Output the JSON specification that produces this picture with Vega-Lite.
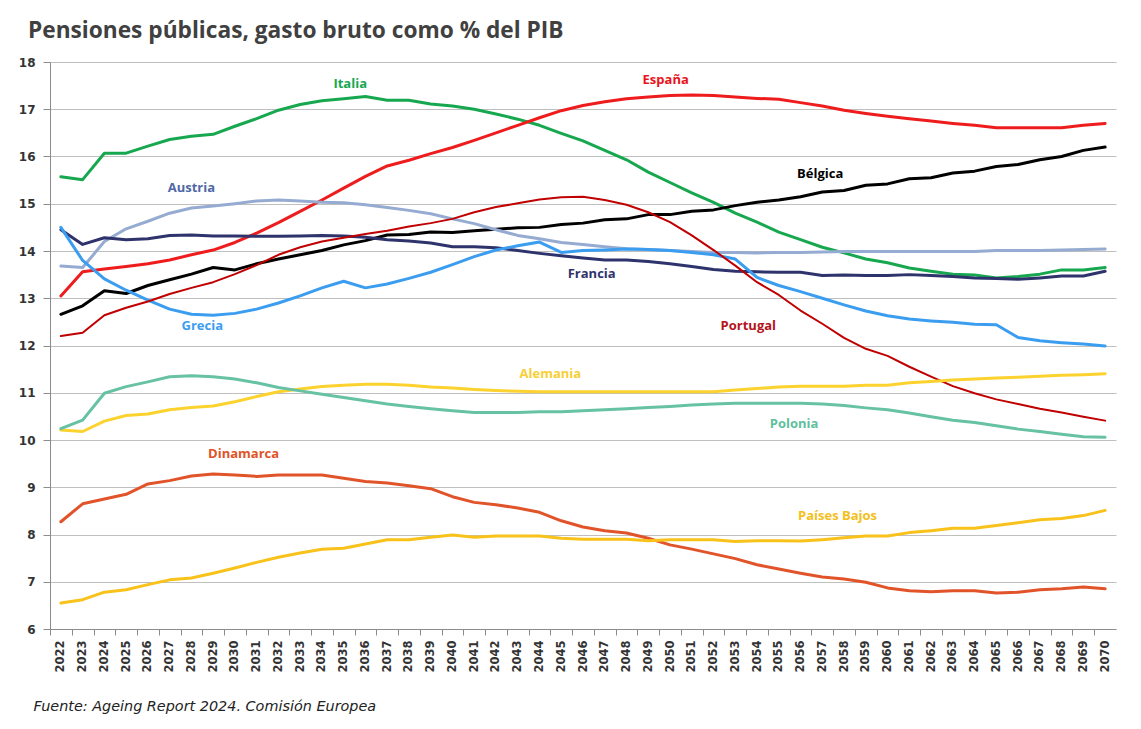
{
  "$schema": "https://vega.github.io/schema/vega-lite/v6.json",
  "width": 1066,
  "height": 567,
  "autosize": {"type": "none"},
  "padding": {"left": 50, "top": 62, "right": 25, "bottom": 100},
  "background": "#ffffff",
  "title": {
    "text": "Pensiones públicas, gasto bruto como % del PIB",
    "anchor": "start",
    "frame": "group",
    "dx": -22,
    "offset": 13,
    "font": "Open Sans",
    "fontSize": 22.7,
    "fontWeight": "bold",
    "color": "#404040"
  },
  "config": {"view": {"stroke": null}},
  "datasets": {
    "series": [
      {"pais":"Italia","anio":2022,"pct":15.57},{"pais":"Italia","anio":2023,"pct":15.51},{"pais":"Italia","anio":2024,"pct":16.07},{"pais":"Italia","anio":2025,"pct":16.07},{"pais":"Italia","anio":2026,"pct":16.22},{"pais":"Italia","anio":2027,"pct":16.36},{"pais":"Italia","anio":2028,"pct":16.43},{"pais":"Italia","anio":2029,"pct":16.47},{"pais":"Italia","anio":2030,"pct":16.64},{"pais":"Italia","anio":2031,"pct":16.8},
      {"pais":"Italia","anio":2032,"pct":16.98},{"pais":"Italia","anio":2033,"pct":17.1},{"pais":"Italia","anio":2034,"pct":17.18},{"pais":"Italia","anio":2035,"pct":17.22},{"pais":"Italia","anio":2036,"pct":17.27},{"pais":"Italia","anio":2037,"pct":17.19},{"pais":"Italia","anio":2038,"pct":17.19},{"pais":"Italia","anio":2039,"pct":17.11},{"pais":"Italia","anio":2040,"pct":17.07},{"pais":"Italia","anio":2041,"pct":17.0},
      {"pais":"Italia","anio":2042,"pct":16.9},{"pais":"Italia","anio":2043,"pct":16.79},{"pais":"Italia","anio":2044,"pct":16.66},{"pais":"Italia","anio":2045,"pct":16.49},{"pais":"Italia","anio":2046,"pct":16.33},{"pais":"Italia","anio":2047,"pct":16.13},{"pais":"Italia","anio":2048,"pct":15.93},{"pais":"Italia","anio":2049,"pct":15.67},{"pais":"Italia","anio":2050,"pct":15.45},{"pais":"Italia","anio":2051,"pct":15.23},
      {"pais":"Italia","anio":2052,"pct":15.03},{"pais":"Italia","anio":2053,"pct":14.8},{"pais":"Italia","anio":2054,"pct":14.61},{"pais":"Italia","anio":2055,"pct":14.4},{"pais":"Italia","anio":2056,"pct":14.24},{"pais":"Italia","anio":2057,"pct":14.08},{"pais":"Italia","anio":2058,"pct":13.96},{"pais":"Italia","anio":2059,"pct":13.83},{"pais":"Italia","anio":2060,"pct":13.75},{"pais":"Italia","anio":2061,"pct":13.64},
      {"pais":"Italia","anio":2062,"pct":13.57},{"pais":"Italia","anio":2063,"pct":13.51},{"pais":"Italia","anio":2064,"pct":13.49},{"pais":"Italia","anio":2065,"pct":13.43},{"pais":"Italia","anio":2066,"pct":13.46},{"pais":"Italia","anio":2067,"pct":13.51},{"pais":"Italia","anio":2068,"pct":13.6},{"pais":"Italia","anio":2069,"pct":13.6},{"pais":"Italia","anio":2070,"pct":13.65},

      {"pais":"España","anio":2022,"pct":13.05},{"pais":"España","anio":2023,"pct":13.56},{"pais":"España","anio":2024,"pct":13.62},{"pais":"España","anio":2025,"pct":13.67},{"pais":"España","anio":2026,"pct":13.73},{"pais":"España","anio":2027,"pct":13.81},{"pais":"España","anio":2028,"pct":13.92},{"pais":"España","anio":2029,"pct":14.02},{"pais":"España","anio":2030,"pct":14.18},{"pais":"España","anio":2031,"pct":14.38},
      {"pais":"España","anio":2032,"pct":14.6},{"pais":"España","anio":2033,"pct":14.84},{"pais":"España","anio":2034,"pct":15.08},{"pais":"España","anio":2035,"pct":15.33},{"pais":"España","anio":2036,"pct":15.58},{"pais":"España","anio":2037,"pct":15.8},{"pais":"España","anio":2038,"pct":15.92},{"pais":"España","anio":2039,"pct":16.06},{"pais":"España","anio":2040,"pct":16.19},{"pais":"España","anio":2041,"pct":16.34},
      {"pais":"España","anio":2042,"pct":16.5},{"pais":"España","anio":2043,"pct":16.66},{"pais":"España","anio":2044,"pct":16.82},{"pais":"España","anio":2045,"pct":16.97},{"pais":"España","anio":2046,"pct":17.08},{"pais":"España","anio":2047,"pct":17.16},{"pais":"España","anio":2048,"pct":17.22},{"pais":"España","anio":2049,"pct":17.26},{"pais":"España","anio":2050,"pct":17.29},{"pais":"España","anio":2051,"pct":17.3},
      {"pais":"España","anio":2052,"pct":17.29},{"pais":"España","anio":2053,"pct":17.26},{"pais":"España","anio":2054,"pct":17.23},{"pais":"España","anio":2055,"pct":17.21},{"pais":"España","anio":2056,"pct":17.14},{"pais":"España","anio":2057,"pct":17.07},{"pais":"España","anio":2058,"pct":16.98},{"pais":"España","anio":2059,"pct":16.91},{"pais":"España","anio":2060,"pct":16.85},{"pais":"España","anio":2061,"pct":16.8},
      {"pais":"España","anio":2062,"pct":16.75},{"pais":"España","anio":2063,"pct":16.7},{"pais":"España","anio":2064,"pct":16.66},{"pais":"España","anio":2065,"pct":16.61},{"pais":"España","anio":2066,"pct":16.61},{"pais":"España","anio":2067,"pct":16.61},{"pais":"España","anio":2068,"pct":16.61},{"pais":"España","anio":2069,"pct":16.66},{"pais":"España","anio":2070,"pct":16.7},

      {"pais":"Bélgica","anio":2022,"pct":12.66},{"pais":"Bélgica","anio":2023,"pct":12.84},{"pais":"Bélgica","anio":2024,"pct":13.16},{"pais":"Bélgica","anio":2025,"pct":13.1},{"pais":"Bélgica","anio":2026,"pct":13.27},{"pais":"Bélgica","anio":2027,"pct":13.39},{"pais":"Bélgica","anio":2028,"pct":13.51},{"pais":"Bélgica","anio":2029,"pct":13.65},{"pais":"Bélgica","anio":2030,"pct":13.6},{"pais":"Bélgica","anio":2031,"pct":13.73},
      {"pais":"Bélgica","anio":2032,"pct":13.83},{"pais":"Bélgica","anio":2033,"pct":13.92},{"pais":"Bélgica","anio":2034,"pct":14.01},{"pais":"Bélgica","anio":2035,"pct":14.13},{"pais":"Bélgica","anio":2036,"pct":14.22},{"pais":"Bélgica","anio":2037,"pct":14.34},{"pais":"Bélgica","anio":2038,"pct":14.35},{"pais":"Bélgica","anio":2039,"pct":14.4},{"pais":"Bélgica","anio":2040,"pct":14.39},{"pais":"Bélgica","anio":2041,"pct":14.43},
      {"pais":"Bélgica","anio":2042,"pct":14.46},{"pais":"Bélgica","anio":2043,"pct":14.49},{"pais":"Bélgica","anio":2044,"pct":14.5},{"pais":"Bélgica","anio":2045,"pct":14.56},{"pais":"Bélgica","anio":2046,"pct":14.59},{"pais":"Bélgica","anio":2047,"pct":14.66},{"pais":"Bélgica","anio":2048,"pct":14.68},{"pais":"Bélgica","anio":2049,"pct":14.77},{"pais":"Bélgica","anio":2050,"pct":14.77},{"pais":"Bélgica","anio":2051,"pct":14.84},
      {"pais":"Bélgica","anio":2052,"pct":14.87},{"pais":"Bélgica","anio":2053,"pct":14.96},{"pais":"Bélgica","anio":2054,"pct":15.03},{"pais":"Bélgica","anio":2055,"pct":15.08},{"pais":"Bélgica","anio":2056,"pct":15.15},{"pais":"Bélgica","anio":2057,"pct":15.25},{"pais":"Bélgica","anio":2058,"pct":15.28},{"pais":"Bélgica","anio":2059,"pct":15.39},{"pais":"Bélgica","anio":2060,"pct":15.42},{"pais":"Bélgica","anio":2061,"pct":15.53},
      {"pais":"Bélgica","anio":2062,"pct":15.55},{"pais":"Bélgica","anio":2063,"pct":15.65},{"pais":"Bélgica","anio":2064,"pct":15.69},{"pais":"Bélgica","anio":2065,"pct":15.79},{"pais":"Bélgica","anio":2066,"pct":15.83},{"pais":"Bélgica","anio":2067,"pct":15.93},{"pais":"Bélgica","anio":2068,"pct":16.0},{"pais":"Bélgica","anio":2069,"pct":16.13},{"pais":"Bélgica","anio":2070,"pct":16.2},

      {"pais":"Austria","anio":2022,"pct":13.68},{"pais":"Austria","anio":2023,"pct":13.65},{"pais":"Austria","anio":2024,"pct":14.2},{"pais":"Austria","anio":2025,"pct":14.47},{"pais":"Austria","anio":2026,"pct":14.63},{"pais":"Austria","anio":2027,"pct":14.8},{"pais":"Austria","anio":2028,"pct":14.91},{"pais":"Austria","anio":2029,"pct":14.95},{"pais":"Austria","anio":2030,"pct":15.0},{"pais":"Austria","anio":2031,"pct":15.06},
      {"pais":"Austria","anio":2032,"pct":15.08},{"pais":"Austria","anio":2033,"pct":15.06},{"pais":"Austria","anio":2034,"pct":15.03},{"pais":"Austria","anio":2035,"pct":15.02},{"pais":"Austria","anio":2036,"pct":14.98},{"pais":"Austria","anio":2037,"pct":14.92},{"pais":"Austria","anio":2038,"pct":14.86},{"pais":"Austria","anio":2039,"pct":14.79},{"pais":"Austria","anio":2040,"pct":14.68},{"pais":"Austria","anio":2041,"pct":14.58},
      {"pais":"Austria","anio":2042,"pct":14.45},{"pais":"Austria","anio":2043,"pct":14.33},{"pais":"Austria","anio":2044,"pct":14.26},{"pais":"Austria","anio":2045,"pct":14.18},{"pais":"Austria","anio":2046,"pct":14.14},{"pais":"Austria","anio":2047,"pct":14.09},{"pais":"Austria","anio":2048,"pct":14.05},{"pais":"Austria","anio":2049,"pct":14.03},{"pais":"Austria","anio":2050,"pct":14.01},{"pais":"Austria","anio":2051,"pct":13.99},
      {"pais":"Austria","anio":2052,"pct":13.97},{"pais":"Austria","anio":2053,"pct":13.97},{"pais":"Austria","anio":2054,"pct":13.96},{"pais":"Austria","anio":2055,"pct":13.97},{"pais":"Austria","anio":2056,"pct":13.97},{"pais":"Austria","anio":2057,"pct":13.98},{"pais":"Austria","anio":2058,"pct":13.99},{"pais":"Austria","anio":2059,"pct":13.99},{"pais":"Austria","anio":2060,"pct":13.99},{"pais":"Austria","anio":2061,"pct":13.99},
      {"pais":"Austria","anio":2062,"pct":13.99},{"pais":"Austria","anio":2063,"pct":13.99},{"pais":"Austria","anio":2064,"pct":13.99},{"pais":"Austria","anio":2065,"pct":14.01},{"pais":"Austria","anio":2066,"pct":14.01},{"pais":"Austria","anio":2067,"pct":14.01},{"pais":"Austria","anio":2068,"pct":14.02},{"pais":"Austria","anio":2069,"pct":14.03},{"pais":"Austria","anio":2070,"pct":14.04},

      {"pais":"Francia","anio":2022,"pct":14.45},{"pais":"Francia","anio":2023,"pct":14.14},{"pais":"Francia","anio":2024,"pct":14.28},{"pais":"Francia","anio":2025,"pct":14.24},{"pais":"Francia","anio":2026,"pct":14.26},{"pais":"Francia","anio":2027,"pct":14.33},{"pais":"Francia","anio":2028,"pct":14.34},{"pais":"Francia","anio":2029,"pct":14.32},{"pais":"Francia","anio":2030,"pct":14.32},{"pais":"Francia","anio":2031,"pct":14.31},
      {"pais":"Francia","anio":2032,"pct":14.31},{"pais":"Francia","anio":2033,"pct":14.32},{"pais":"Francia","anio":2034,"pct":14.33},{"pais":"Francia","anio":2035,"pct":14.32},{"pais":"Francia","anio":2036,"pct":14.29},{"pais":"Francia","anio":2037,"pct":14.24},{"pais":"Francia","anio":2038,"pct":14.21},{"pais":"Francia","anio":2039,"pct":14.17},{"pais":"Francia","anio":2040,"pct":14.09},{"pais":"Francia","anio":2041,"pct":14.09},
      {"pais":"Francia","anio":2042,"pct":14.07},{"pais":"Francia","anio":2043,"pct":14.01},{"pais":"Francia","anio":2044,"pct":13.95},{"pais":"Francia","anio":2045,"pct":13.9},{"pais":"Francia","anio":2046,"pct":13.85},{"pais":"Francia","anio":2047,"pct":13.81},{"pais":"Francia","anio":2048,"pct":13.81},{"pais":"Francia","anio":2049,"pct":13.78},{"pais":"Francia","anio":2050,"pct":13.73},{"pais":"Francia","anio":2051,"pct":13.67},
      {"pais":"Francia","anio":2052,"pct":13.61},{"pais":"Francia","anio":2053,"pct":13.57},{"pais":"Francia","anio":2054,"pct":13.56},{"pais":"Francia","anio":2055,"pct":13.55},{"pais":"Francia","anio":2056,"pct":13.55},{"pais":"Francia","anio":2057,"pct":13.48},{"pais":"Francia","anio":2058,"pct":13.49},{"pais":"Francia","anio":2059,"pct":13.48},{"pais":"Francia","anio":2060,"pct":13.48},{"pais":"Francia","anio":2061,"pct":13.5},
      {"pais":"Francia","anio":2062,"pct":13.48},{"pais":"Francia","anio":2063,"pct":13.46},{"pais":"Francia","anio":2064,"pct":13.43},{"pais":"Francia","anio":2065,"pct":13.42},{"pais":"Francia","anio":2066,"pct":13.4},{"pais":"Francia","anio":2067,"pct":13.43},{"pais":"Francia","anio":2068,"pct":13.47},{"pais":"Francia","anio":2069,"pct":13.47},{"pais":"Francia","anio":2070,"pct":13.57},

      {"pais":"Grecia","anio":2022,"pct":14.5},{"pais":"Grecia","anio":2023,"pct":13.8},{"pais":"Grecia","anio":2024,"pct":13.41},{"pais":"Grecia","anio":2025,"pct":13.17},{"pais":"Grecia","anio":2026,"pct":12.96},{"pais":"Grecia","anio":2027,"pct":12.77},{"pais":"Grecia","anio":2028,"pct":12.66},{"pais":"Grecia","anio":2029,"pct":12.64},{"pais":"Grecia","anio":2030,"pct":12.68},{"pais":"Grecia","anio":2031,"pct":12.77},
      {"pais":"Grecia","anio":2032,"pct":12.9},{"pais":"Grecia","anio":2033,"pct":13.05},{"pais":"Grecia","anio":2034,"pct":13.22},{"pais":"Grecia","anio":2035,"pct":13.36},{"pais":"Grecia","anio":2036,"pct":13.22},{"pais":"Grecia","anio":2037,"pct":13.3},{"pais":"Grecia","anio":2038,"pct":13.42},{"pais":"Grecia","anio":2039,"pct":13.55},{"pais":"Grecia","anio":2040,"pct":13.71},{"pais":"Grecia","anio":2041,"pct":13.88},
      {"pais":"Grecia","anio":2042,"pct":14.02},{"pais":"Grecia","anio":2043,"pct":14.11},{"pais":"Grecia","anio":2044,"pct":14.19},{"pais":"Grecia","anio":2045,"pct":13.97},{"pais":"Grecia","anio":2046,"pct":14.01},{"pais":"Grecia","anio":2047,"pct":14.02},{"pais":"Grecia","anio":2048,"pct":14.04},{"pais":"Grecia","anio":2049,"pct":14.03},{"pais":"Grecia","anio":2050,"pct":14.01},{"pais":"Grecia","anio":2051,"pct":13.97},
      {"pais":"Grecia","anio":2052,"pct":13.92},{"pais":"Grecia","anio":2053,"pct":13.83},{"pais":"Grecia","anio":2054,"pct":13.44},{"pais":"Grecia","anio":2055,"pct":13.27},{"pais":"Grecia","anio":2056,"pct":13.14},{"pais":"Grecia","anio":2057,"pct":13.0},{"pais":"Grecia","anio":2058,"pct":12.86},{"pais":"Grecia","anio":2059,"pct":12.73},{"pais":"Grecia","anio":2060,"pct":12.63},{"pais":"Grecia","anio":2061,"pct":12.56},
      {"pais":"Grecia","anio":2062,"pct":12.52},{"pais":"Grecia","anio":2063,"pct":12.49},{"pais":"Grecia","anio":2064,"pct":12.45},{"pais":"Grecia","anio":2065,"pct":12.44},{"pais":"Grecia","anio":2066,"pct":12.17},{"pais":"Grecia","anio":2067,"pct":12.1},{"pais":"Grecia","anio":2068,"pct":12.06},{"pais":"Grecia","anio":2069,"pct":12.03},{"pais":"Grecia","anio":2070,"pct":11.99},

      {"pais":"Portugal","anio":2022,"pct":12.2},{"pais":"Portugal","anio":2023,"pct":12.27},{"pais":"Portugal","anio":2024,"pct":12.64},{"pais":"Portugal","anio":2025,"pct":12.8},{"pais":"Portugal","anio":2026,"pct":12.93},{"pais":"Portugal","anio":2027,"pct":13.09},{"pais":"Portugal","anio":2028,"pct":13.22},{"pais":"Portugal","anio":2029,"pct":13.34},{"pais":"Portugal","anio":2030,"pct":13.51},{"pais":"Portugal","anio":2031,"pct":13.7},
      {"pais":"Portugal","anio":2032,"pct":13.92},{"pais":"Portugal","anio":2033,"pct":14.08},{"pais":"Portugal","anio":2034,"pct":14.2},{"pais":"Portugal","anio":2035,"pct":14.28},{"pais":"Portugal","anio":2036,"pct":14.36},{"pais":"Portugal","anio":2037,"pct":14.43},{"pais":"Portugal","anio":2038,"pct":14.52},{"pais":"Portugal","anio":2039,"pct":14.59},{"pais":"Portugal","anio":2040,"pct":14.68},{"pais":"Portugal","anio":2041,"pct":14.82},
      {"pais":"Portugal","anio":2042,"pct":14.93},{"pais":"Portugal","anio":2043,"pct":15.01},{"pais":"Portugal","anio":2044,"pct":15.09},{"pais":"Portugal","anio":2045,"pct":15.14},{"pais":"Portugal","anio":2046,"pct":15.15},{"pais":"Portugal","anio":2047,"pct":15.08},{"pais":"Portugal","anio":2048,"pct":14.98},{"pais":"Portugal","anio":2049,"pct":14.82},{"pais":"Portugal","anio":2050,"pct":14.61},{"pais":"Portugal","anio":2051,"pct":14.33},
      {"pais":"Portugal","anio":2052,"pct":14.02},{"pais":"Portugal","anio":2053,"pct":13.69},{"pais":"Portugal","anio":2054,"pct":13.34},{"pais":"Portugal","anio":2055,"pct":13.07},{"pais":"Portugal","anio":2056,"pct":12.74},{"pais":"Portugal","anio":2057,"pct":12.46},{"pais":"Portugal","anio":2058,"pct":12.16},{"pais":"Portugal","anio":2059,"pct":11.93},{"pais":"Portugal","anio":2060,"pct":11.78},{"pais":"Portugal","anio":2061,"pct":11.55},
      {"pais":"Portugal","anio":2062,"pct":11.34},{"pais":"Portugal","anio":2063,"pct":11.14},{"pais":"Portugal","anio":2064,"pct":10.99},{"pais":"Portugal","anio":2065,"pct":10.86},{"pais":"Portugal","anio":2066,"pct":10.76},{"pais":"Portugal","anio":2067,"pct":10.66},{"pais":"Portugal","anio":2068,"pct":10.58},{"pais":"Portugal","anio":2069,"pct":10.49},{"pais":"Portugal","anio":2070,"pct":10.41},

      {"pais":"Alemania","anio":2022,"pct":10.21},{"pais":"Alemania","anio":2023,"pct":10.18},{"pais":"Alemania","anio":2024,"pct":10.4},{"pais":"Alemania","anio":2025,"pct":10.52},{"pais":"Alemania","anio":2026,"pct":10.55},{"pais":"Alemania","anio":2027,"pct":10.64},{"pais":"Alemania","anio":2028,"pct":10.69},{"pais":"Alemania","anio":2029,"pct":10.72},{"pais":"Alemania","anio":2030,"pct":10.81},{"pais":"Alemania","anio":2031,"pct":10.92},
      {"pais":"Alemania","anio":2032,"pct":11.02},{"pais":"Alemania","anio":2033,"pct":11.08},{"pais":"Alemania","anio":2034,"pct":11.13},{"pais":"Alemania","anio":2035,"pct":11.16},{"pais":"Alemania","anio":2036,"pct":11.18},{"pais":"Alemania","anio":2037,"pct":11.18},{"pais":"Alemania","anio":2038,"pct":11.16},{"pais":"Alemania","anio":2039,"pct":11.12},{"pais":"Alemania","anio":2040,"pct":11.1},{"pais":"Alemania","anio":2041,"pct":11.07},
      {"pais":"Alemania","anio":2042,"pct":11.05},{"pais":"Alemania","anio":2043,"pct":11.03},{"pais":"Alemania","anio":2044,"pct":11.02},{"pais":"Alemania","anio":2045,"pct":11.02},{"pais":"Alemania","anio":2046,"pct":11.02},{"pais":"Alemania","anio":2047,"pct":11.02},{"pais":"Alemania","anio":2048,"pct":11.02},{"pais":"Alemania","anio":2049,"pct":11.02},{"pais":"Alemania","anio":2050,"pct":11.02},{"pais":"Alemania","anio":2051,"pct":11.02},
      {"pais":"Alemania","anio":2052,"pct":11.02},{"pais":"Alemania","anio":2053,"pct":11.06},{"pais":"Alemania","anio":2054,"pct":11.09},{"pais":"Alemania","anio":2055,"pct":11.12},{"pais":"Alemania","anio":2056,"pct":11.14},{"pais":"Alemania","anio":2057,"pct":11.14},{"pais":"Alemania","anio":2058,"pct":11.14},{"pais":"Alemania","anio":2059,"pct":11.16},{"pais":"Alemania","anio":2060,"pct":11.16},{"pais":"Alemania","anio":2061,"pct":11.21},
      {"pais":"Alemania","anio":2062,"pct":11.24},{"pais":"Alemania","anio":2063,"pct":11.27},{"pais":"Alemania","anio":2064,"pct":11.29},{"pais":"Alemania","anio":2065,"pct":11.31},{"pais":"Alemania","anio":2066,"pct":11.33},{"pais":"Alemania","anio":2067,"pct":11.35},{"pais":"Alemania","anio":2068,"pct":11.37},{"pais":"Alemania","anio":2069,"pct":11.38},{"pais":"Alemania","anio":2070,"pct":11.4},

      {"pais":"Polonia","anio":2022,"pct":10.24},{"pais":"Polonia","anio":2023,"pct":10.42},{"pais":"Polonia","anio":2024,"pct":10.99},{"pais":"Polonia","anio":2025,"pct":11.13},{"pais":"Polonia","anio":2026,"pct":11.23},{"pais":"Polonia","anio":2027,"pct":11.34},{"pais":"Polonia","anio":2028,"pct":11.36},{"pais":"Polonia","anio":2029,"pct":11.34},{"pais":"Polonia","anio":2030,"pct":11.29},{"pais":"Polonia","anio":2031,"pct":11.21},
      {"pais":"Polonia","anio":2032,"pct":11.11},{"pais":"Polonia","anio":2033,"pct":11.04},{"pais":"Polonia","anio":2034,"pct":10.97},{"pais":"Polonia","anio":2035,"pct":10.9},{"pais":"Polonia","anio":2036,"pct":10.83},{"pais":"Polonia","anio":2037,"pct":10.76},{"pais":"Polonia","anio":2038,"pct":10.71},{"pais":"Polonia","anio":2039,"pct":10.66},{"pais":"Polonia","anio":2040,"pct":10.62},{"pais":"Polonia","anio":2041,"pct":10.58},
      {"pais":"Polonia","anio":2042,"pct":10.58},{"pais":"Polonia","anio":2043,"pct":10.58},{"pais":"Polonia","anio":2044,"pct":10.6},{"pais":"Polonia","anio":2045,"pct":10.6},{"pais":"Polonia","anio":2046,"pct":10.62},{"pais":"Polonia","anio":2047,"pct":10.64},{"pais":"Polonia","anio":2048,"pct":10.66},{"pais":"Polonia","anio":2049,"pct":10.69},{"pais":"Polonia","anio":2050,"pct":10.71},{"pais":"Polonia","anio":2051,"pct":10.74},
      {"pais":"Polonia","anio":2052,"pct":10.76},{"pais":"Polonia","anio":2053,"pct":10.78},{"pais":"Polonia","anio":2054,"pct":10.78},{"pais":"Polonia","anio":2055,"pct":10.78},{"pais":"Polonia","anio":2056,"pct":10.78},{"pais":"Polonia","anio":2057,"pct":10.76},{"pais":"Polonia","anio":2058,"pct":10.73},{"pais":"Polonia","anio":2059,"pct":10.68},{"pais":"Polonia","anio":2060,"pct":10.64},{"pais":"Polonia","anio":2061,"pct":10.57},
      {"pais":"Polonia","anio":2062,"pct":10.49},{"pais":"Polonia","anio":2063,"pct":10.42},{"pais":"Polonia","anio":2064,"pct":10.37},{"pais":"Polonia","anio":2065,"pct":10.3},{"pais":"Polonia","anio":2066,"pct":10.23},{"pais":"Polonia","anio":2067,"pct":10.18},{"pais":"Polonia","anio":2068,"pct":10.12},{"pais":"Polonia","anio":2069,"pct":10.07},{"pais":"Polonia","anio":2070,"pct":10.06},

      {"pais":"Dinamarca","anio":2022,"pct":8.27},{"pais":"Dinamarca","anio":2023,"pct":8.65},{"pais":"Dinamarca","anio":2024,"pct":8.75},{"pais":"Dinamarca","anio":2025,"pct":8.85},{"pais":"Dinamarca","anio":2026,"pct":9.07},{"pais":"Dinamarca","anio":2027,"pct":9.14},{"pais":"Dinamarca","anio":2028,"pct":9.24},{"pais":"Dinamarca","anio":2029,"pct":9.28},{"pais":"Dinamarca","anio":2030,"pct":9.26},{"pais":"Dinamarca","anio":2031,"pct":9.23},
      {"pais":"Dinamarca","anio":2032,"pct":9.26},{"pais":"Dinamarca","anio":2033,"pct":9.26},{"pais":"Dinamarca","anio":2034,"pct":9.26},{"pais":"Dinamarca","anio":2035,"pct":9.19},{"pais":"Dinamarca","anio":2036,"pct":9.12},{"pais":"Dinamarca","anio":2037,"pct":9.09},{"pais":"Dinamarca","anio":2038,"pct":9.03},{"pais":"Dinamarca","anio":2039,"pct":8.97},{"pais":"Dinamarca","anio":2040,"pct":8.8},{"pais":"Dinamarca","anio":2041,"pct":8.68},
      {"pais":"Dinamarca","anio":2042,"pct":8.63},{"pais":"Dinamarca","anio":2043,"pct":8.56},{"pais":"Dinamarca","anio":2044,"pct":8.47},{"pais":"Dinamarca","anio":2045,"pct":8.29},{"pais":"Dinamarca","anio":2046,"pct":8.16},{"pais":"Dinamarca","anio":2047,"pct":8.08},{"pais":"Dinamarca","anio":2048,"pct":8.03},{"pais":"Dinamarca","anio":2049,"pct":7.92},{"pais":"Dinamarca","anio":2050,"pct":7.78},{"pais":"Dinamarca","anio":2051,"pct":7.69},
      {"pais":"Dinamarca","anio":2052,"pct":7.59},{"pais":"Dinamarca","anio":2053,"pct":7.49},{"pais":"Dinamarca","anio":2054,"pct":7.36},{"pais":"Dinamarca","anio":2055,"pct":7.27},{"pais":"Dinamarca","anio":2056,"pct":7.18},{"pais":"Dinamarca","anio":2057,"pct":7.1},{"pais":"Dinamarca","anio":2058,"pct":7.06},{"pais":"Dinamarca","anio":2059,"pct":6.99},{"pais":"Dinamarca","anio":2060,"pct":6.87},{"pais":"Dinamarca","anio":2061,"pct":6.81},
      {"pais":"Dinamarca","anio":2062,"pct":6.79},{"pais":"Dinamarca","anio":2063,"pct":6.81},{"pais":"Dinamarca","anio":2064,"pct":6.81},{"pais":"Dinamarca","anio":2065,"pct":6.76},{"pais":"Dinamarca","anio":2066,"pct":6.78},{"pais":"Dinamarca","anio":2067,"pct":6.83},{"pais":"Dinamarca","anio":2068,"pct":6.85},{"pais":"Dinamarca","anio":2069,"pct":6.89},{"pais":"Dinamarca","anio":2070,"pct":6.85},

      {"pais":"Países Bajos","anio":2022,"pct":6.55},{"pais":"Países Bajos","anio":2023,"pct":6.62},{"pais":"Países Bajos","anio":2024,"pct":6.78},{"pais":"Países Bajos","anio":2025,"pct":6.83},{"pais":"Países Bajos","anio":2026,"pct":6.94},{"pais":"Países Bajos","anio":2027,"pct":7.04},{"pais":"Países Bajos","anio":2028,"pct":7.08},{"pais":"Países Bajos","anio":2029,"pct":7.18},{"pais":"Países Bajos","anio":2030,"pct":7.29},{"pais":"Países Bajos","anio":2031,"pct":7.41},
      {"pais":"Países Bajos","anio":2032,"pct":7.52},{"pais":"Países Bajos","anio":2033,"pct":7.61},{"pais":"Países Bajos","anio":2034,"pct":7.69},{"pais":"Países Bajos","anio":2035,"pct":7.71},{"pais":"Países Bajos","anio":2036,"pct":7.8},{"pais":"Países Bajos","anio":2037,"pct":7.89},{"pais":"Países Bajos","anio":2038,"pct":7.89},{"pais":"Países Bajos","anio":2039,"pct":7.94},{"pais":"Países Bajos","anio":2040,"pct":7.99},{"pais":"Países Bajos","anio":2041,"pct":7.94},
      {"pais":"Países Bajos","anio":2042,"pct":7.97},{"pais":"Países Bajos","anio":2043,"pct":7.97},{"pais":"Países Bajos","anio":2044,"pct":7.97},{"pais":"Países Bajos","anio":2045,"pct":7.92},{"pais":"Países Bajos","anio":2046,"pct":7.9},{"pais":"Países Bajos","anio":2047,"pct":7.9},{"pais":"Países Bajos","anio":2048,"pct":7.9},{"pais":"Países Bajos","anio":2049,"pct":7.87},{"pais":"Países Bajos","anio":2050,"pct":7.89},{"pais":"Países Bajos","anio":2051,"pct":7.89},
      {"pais":"Países Bajos","anio":2052,"pct":7.89},{"pais":"Países Bajos","anio":2053,"pct":7.85},{"pais":"Países Bajos","anio":2054,"pct":7.87},{"pais":"Países Bajos","anio":2055,"pct":7.87},{"pais":"Países Bajos","anio":2056,"pct":7.86},{"pais":"Países Bajos","anio":2057,"pct":7.89},{"pais":"Países Bajos","anio":2058,"pct":7.93},{"pais":"Países Bajos","anio":2059,"pct":7.97},{"pais":"Países Bajos","anio":2060,"pct":7.97},{"pais":"Países Bajos","anio":2061,"pct":8.04},
      {"pais":"Países Bajos","anio":2062,"pct":8.08},{"pais":"Países Bajos","anio":2063,"pct":8.13},{"pais":"Países Bajos","anio":2064,"pct":8.13},{"pais":"Países Bajos","anio":2065,"pct":8.19},{"pais":"Países Bajos","anio":2066,"pct":8.25},{"pais":"Países Bajos","anio":2067,"pct":8.31},{"pais":"Países Bajos","anio":2068,"pct":8.34},{"pais":"Países Bajos","anio":2069,"pct":8.4},{"pais":"Países Bajos","anio":2070,"pct":8.51}
    ],
    "etiquetas": [
      {"pais":"Italia","anio":2035.3,"pct":17.53},
      {"pais":"España","anio":2049.8,"pct":17.61},
      {"pais":"Bélgica","anio":2056.9,"pct":15.63},
      {"pais":"Austria","anio":2028.0,"pct":15.33},
      {"pais":"Francia","anio":2046.4,"pct":13.51},
      {"pais":"Grecia","anio":2028.5,"pct":12.41},
      {"pais":"Portugal","anio":2053.6,"pct":12.41},
      {"pais":"Alemania","anio":2044.5,"pct":11.4},
      {"pais":"Polonia","anio":2055.7,"pct":10.34},
      {"pais":"Dinamarca","anio":2030.4,"pct":9.71},
      {"pais":"Países Bajos","anio":2057.7,"pct":8.4}
    ]
  },
  "encoding": {
    "x": {
      "field": "anio",
      "type": "quantitative",
      "scale": {"domain": [2021.5, 2070.5], "nice": false, "zero": false},
      "axis": {
        "values": [2022,2023,2024,2025,2026,2027,2028,2029,2030,2031,2032,2033,2034,2035,2036,2037,2038,2039,2040,2041,2042,2043,2044,2045,2046,2047,2048,2049,2050,2051,2052,2053,2054,2055,2056,2057,2058,2059,2060,2061,2062,2063,2064,2065,2066,2067,2068,2069,2070,2071],
        "format": "d",
        "labelExpr": "datum.value > 2070 ? '' : datum.label",
        "tickOffset": -10.88,
        "labelOffset": 10.88,
        "labelAngle": -90,
        "labelAlign": "right",
        "labelBaseline": "middle",
        "labelFont": "DejaVu Sans",
        "labelFontWeight": "bold",
        "labelFontSize": 11.5,
        "labelColor": "#333333",
        "labelPadding": 5,
        "labelOverlap": false,
        "labelFlush": false,
        "tickSize": 6,
        "tickColor": "#8c8c8c",
        "domainColor": "#8c8c8c",
        "grid": false,
        "title": "Fuente: Ageing Report 2024. Comisión Europea",
        "titleX": -17,
        "titleY": 81,
        "titleAlign": "left",
        "titleAnchor": null,
        "titleBaseline": "alphabetic",
        "titleFont": "DejaVu Sans",
        "titleFontStyle": "italic",
        "titleFontWeight": "normal",
        "titleFontSize": 14.4,
        "titleColor": "#222222"
      }
    },
    "y": {
      "field": "pct",
      "type": "quantitative",
      "scale": {"domain": [6, 18], "nice": false, "zero": false},
      "axis": {
        "values": [6,7,8,9,10,11,12,13,14,15,16,17,18],
        "grid": true,
        "gridColor": "#bfbfbf",
        "gridWidth": 1,
        "domainColor": "#8c8c8c",
        "tickColor": "#8c8c8c",
        "tickSize": 7,
        "labelFont": "DejaVu Sans",
        "labelFontWeight": "bold",
        "labelFontSize": 12,
        "labelColor": "#333333",
        "labelPadding": 8,
        "title": null
      }
    }
  },
  "layer": [
    {
      "data": {"name": "series"},
      "mark": {"type": "line", "strokeJoin": "round", "strokeCap": "round"},
      "encoding": {
        "color": {
          "field": "pais",
          "type": "nominal",
          "scale": {
            "domain": ["Países Bajos","Dinamarca","Polonia","Alemania","Portugal","Austria","Francia","Bélgica","Grecia","Italia","España"],
            "range": ["#f8c21a","#e1542a","#66c2a3","#fcd22e","#c00000","#96abd1","#2e336c","#000000","#3b9df0","#17a84f","#ee1c1c"]
          },
          "legend": null
        },
        "strokeWidth": {"condition": {"test": "datum.pais === 'Portugal'", "value": 2}, "value": 3}
      }
    },
    {
      "data": {"name": "etiquetas"},
      "mark": {"type": "text", "font": "Open Sans", "fontWeight": "bold", "fontSize": 13, "align": "center", "baseline": "middle"},
      "encoding": {
        "text": {"field": "pais", "type": "nominal"},
        "color": {
          "field": "pais",
          "type": "nominal",
          "scale": {
            "domain": ["Países Bajos","Dinamarca","Polonia","Alemania","Portugal","Austria","Francia","Bélgica","Grecia","Italia","España"],
            "range": ["#f3bf1c","#df5427","#5fbf9d","#f7cf36","#b5121b","#4f69a6","#2e336c","#000000","#3b9df0","#17a84f","#e8141c"]
          },
          "legend": null
        }
      }
    }
  ],
  "resolve": {"scale": {"color": "independent"}}
}
